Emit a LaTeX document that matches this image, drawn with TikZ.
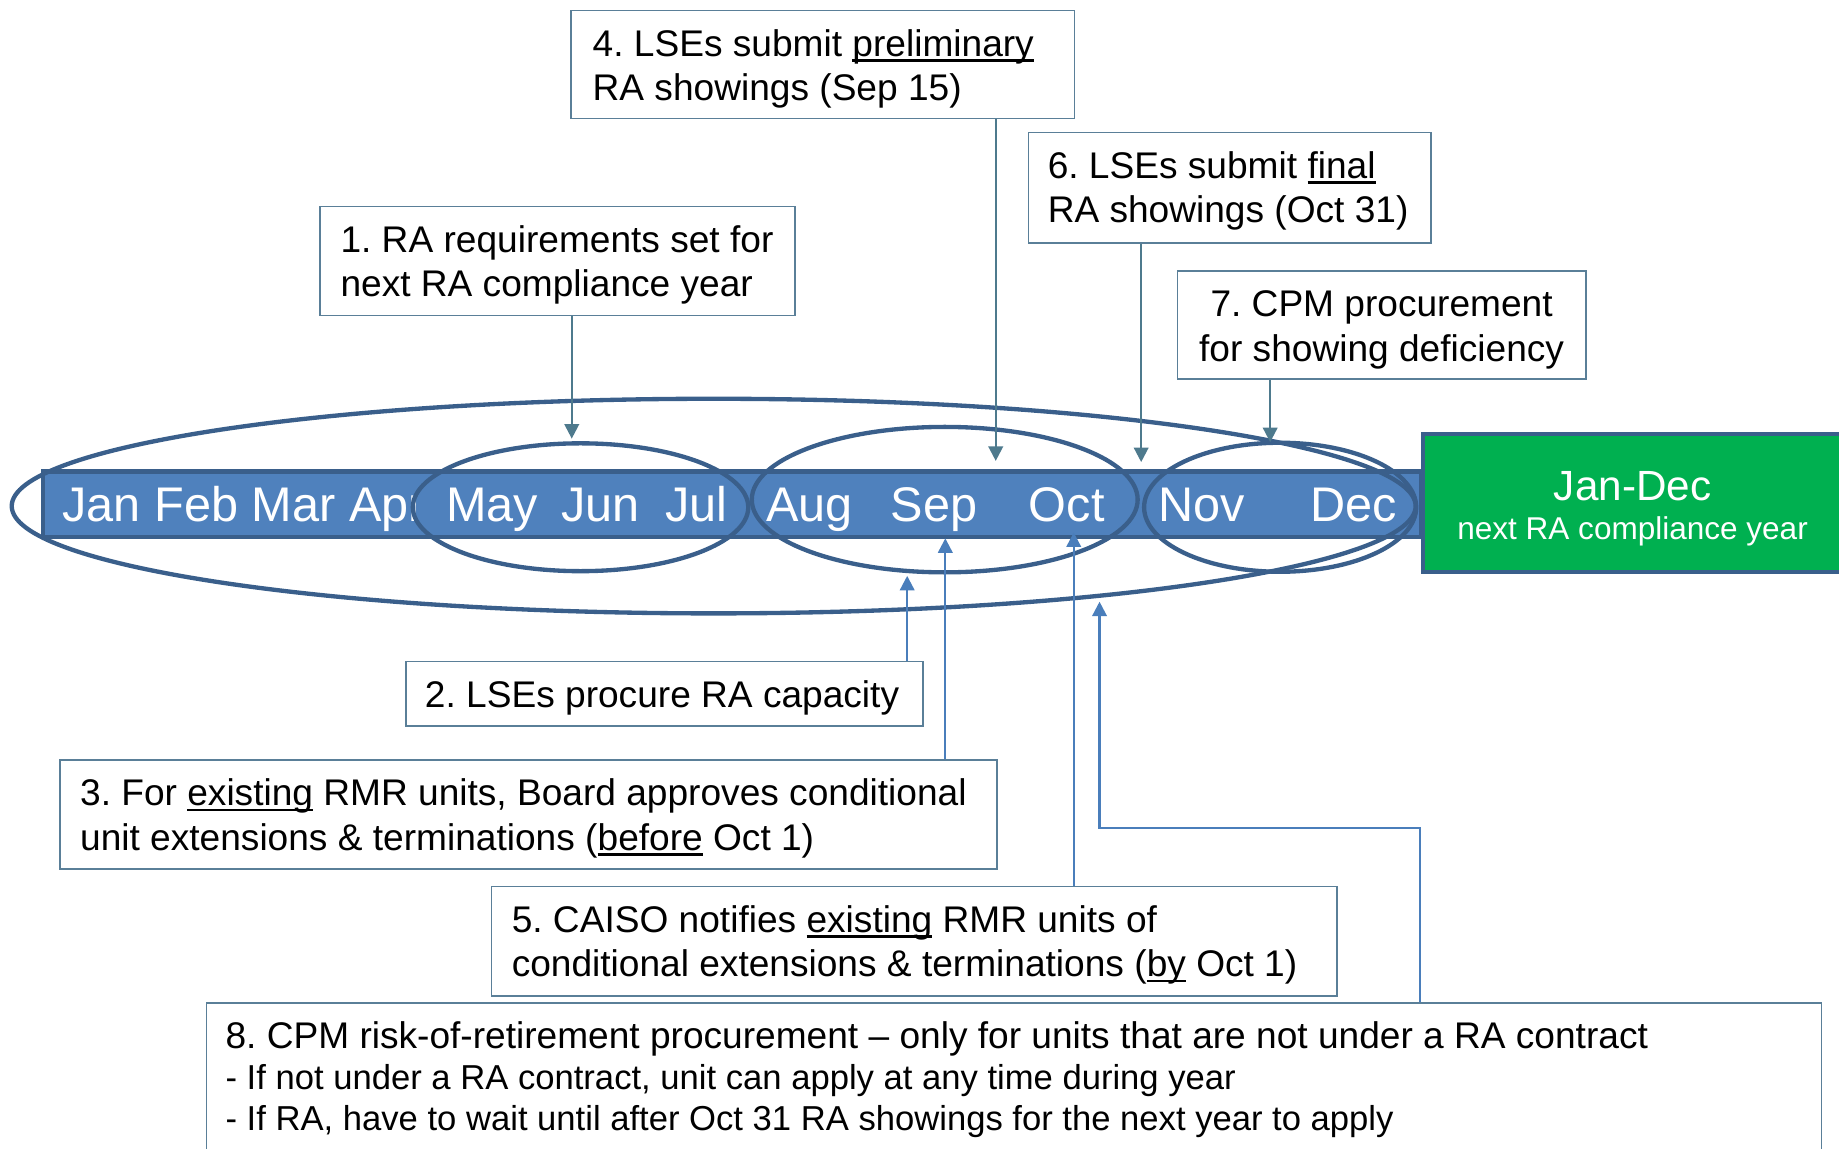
\documentclass[tikz,border=0pt]{standalone}
\usepackage{fontspec}
\setmainfont{Liberation Sans}
\usetikzlibrary{arrows.meta,fit}
\definecolor{barblue}{HTML}{4F81BD}
\definecolor{edgeblue}{HTML}{3A5F8B}
\definecolor{greenbox}{HTML}{00B050}
\definecolor{boxline}{HTML}{5A7F98}
\definecolor{downc}{HTML}{4E7A8D}
\definecolor{upc}{HTML}{4A7EBB}
\newsavebox\ulbox
\newcommand\ulx[1]{\sbox\ulbox{#1}\rlap{\rule[-2.6pt]{\wd\ulbox}{1.1pt}}\usebox\ulbox}
\frenchspacing
\begin{document}
\begin{tikzpicture}[x=0.02cm,y=-0.02cm,
 infobox/.style={draw=boxline, line width=0.8pt, fill=white, inner sep=0pt},
 txt/.style={inner sep=0pt, anchor=base west, font=\fontsize{18pt}{21pt}\selectfont},
 smalltxt/.style={inner sep=0pt, anchor=base west, font=\fontsize{16.8pt}{20pt}\selectfont},
 month/.style={inner sep=0pt, anchor=base west, text=white, font=\fontsize{23.6pt}{28pt}\selectfont},
 ring/.style={draw=edgeblue, line width=2.1pt},
 downarr/.style={draw=downc, line width=1.1pt, -{Triangle[length=7pt,width=7pt]}},
 uparr/.style={draw=upc, line width=1.1pt, -{Triangle[length=7pt,width=7pt]}}]
\useasboundingbox (0,0) rectangle (1568,979);
\clip (0,0) rectangle (1568,979);

% timeline bar
\node[fit={(37,402) (1212,458)}, fill=barblue, draw=edgeblue, line width=2pt, inner sep=0pt] (bar) {};
\node[fit={(1213,370) (1580,488)}, fill=greenbox, draw=edgeblue, line width=2pt, inner sep=0pt] (next) {};
\node[inner sep=0pt, anchor=base, text=white, font=\fontsize{20.5pt}{24pt}\selectfont] (nextA) at (1392,427) {Jan-Dec};
\node[inner sep=0pt, anchor=base, text=white, font=\fontsize{15.3pt}{18pt}\selectfont] (nextB) at (1392,460) {next RA compliance year};

% months
\begin{scope}
\clip (37,395) rectangle (354,465);
\node[month] (mJanApr) at (53,445) {Jan Feb Mar Apr};
\end{scope}
\node[month] (mMay) at (380,445) {May};
\node[month] (mJun) at (478,445) {Jun};
\node[month] (mJul) at (567,445) {Jul};
\node[month] (mAug) at (653,445) {Aug};
\node[month] (mSep) at (759,445) {Sep};
\node[month] (mOct) at (877,445) {Oct};
\node[month] (mNov) at (987,445) {Nov};
\node[month] (mDec) at (1117,445) {Dec};

% ellipses
\draw[ring] (608.5,431.5) ellipse [x radius=598.5, y radius=91.5];
\draw[ring] (495,432.5) ellipse [x radius=143, y radius=54.5];
\draw[ring] (805.5,426) ellipse [x radius=164.5, y radius=62];
\draw[ring] (1091.5,432.5) ellipse [x radius=116, y radius=55];

% boxes
\node[infobox, fit={(487,9) (916,101)}] (b4) {};
\node[txt] (b4a) at (505,48) {4. LSEs submit \ulx{preliminary}};
\node[txt] (b4b) at (505,86) {RA showings (Sep 15)};

\node[infobox, fit={(877,113) (1220,207)}] (b6) {};
\node[txt] (b6a) at (893,152) {6. LSEs submit \ulx{final}};
\node[txt] (b6b) at (893,190) {RA showings (Oct 31)};

\node[infobox, fit={(273,176) (678,269)}] (b1) {};
\node[txt] (b1a) at (290,215) {1. RA requirements set for};
\node[txt] (b1b) at (290,253) {next RA compliance year};

\node[infobox, fit={(1004,231) (1352,323)}] (b7) {};
\node[txt, anchor=base] (b7a) at (1178,270) {7. CPM procurement};
\node[txt, anchor=base] (b7b) at (1178,308) {for showing deficiency};

\node[infobox, fit={(346,564) (787,619)}] (b2) {};
\node[txt] (b2a) at (362,603) {2. LSEs procure RA capacity};

\node[infobox, fit={(51,648) (850,741)}] (b3) {};
\node[txt] (b3a) at (68,687) {3. For \ulx{existing} RMR units, Board approves conditional};
\node[txt] (b3b) at (68,725) {unit extensions \& terminations (\ulx{before} Oct 1)};

\node[infobox, fit={(419,756) (1140,849)}] (b5) {};
\node[txt] (b5a) at (436,795) {5. CAISO notifies \ulx{existing} RMR units of};
\node[txt] (b5b) at (436,833) {conditional extensions \& terminations (\ulx{by} Oct 1)};

\node[infobox, fit={(176,855) (1553,1000)}] (b8) {};
\node[txt] (b8a) at (192,894) {8. CPM risk-of-retirement procurement – only for units that are not under a RA contract};
\node[smalltxt] (b8b) at (192,929) {- If not under a RA contract, unit can apply at any time during year};
\node[smalltxt] (b8c) at (192,964) {- If RA, have to wait until after Oct 31 RA showings for the next year to apply};

% connector targets
\coordinate (t1) at (487.5,374);
\coordinate (t4) at (849,393);
\coordinate (t6) at (973,394);
\coordinate (t7) at (1083,377);
\coordinate (t2) at (773.5,491);
\coordinate (t3) at (806,459);
\coordinate (t5) at (915.5,454);
\coordinate (c8) at (1211,706);
\coordinate (t8) at (937.5,513);

% connectors
\draw[downarr] (b1.south -| t1) -- (t1);
\draw[downarr] (b4.south -| t4) -- (t4);
\draw[downarr] (b6.south -| t6) -- (t6);
\draw[downarr] (b7.south -| t7) -- (t7);
\draw[uparr] (b2.north -| t2) -- (t2);
\draw[uparr] (b3.north -| t3) -- (t3);
\draw[uparr] (b5.north -| t5) -- (t5);
\draw[uparr] (b8.north -| c8) -- (c8) -| (t8);
\end{tikzpicture}
\end{document}
